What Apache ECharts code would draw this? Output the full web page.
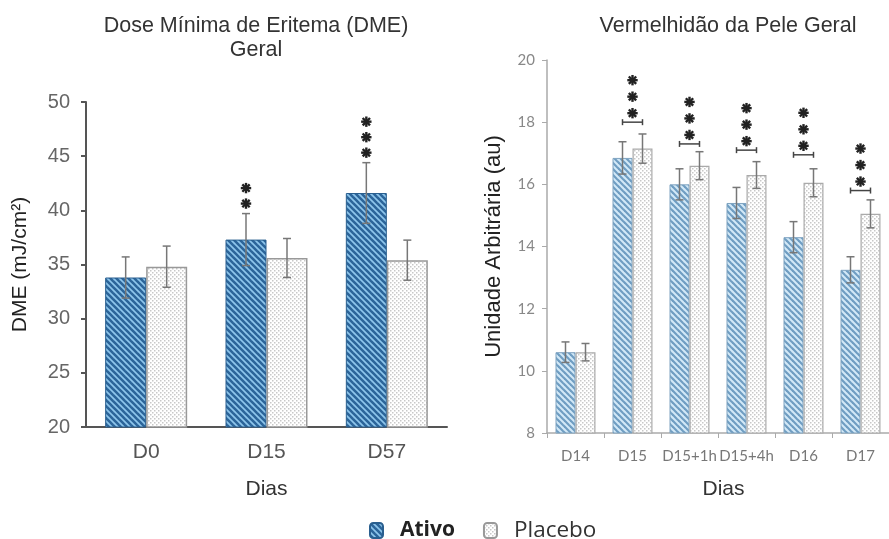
<!DOCTYPE html>
<html><head><meta charset="utf-8">
<script src="https://cdn.jsdelivr.net/npm/echarts@6/dist/echarts.min.js"></script>
<style>html,body{margin:0;padding:0;background:#fff}#c{width:889px;height:539px}</style>
</head><body><div id="c"></div>
<script>
// ---- Data: Dose Mínima de Eritema (DME) Geral ----
const dmeCategories = ['D0', 'D15', 'D57'];
const dmeAtivo = [33.8, 37.3, 41.6];
const dmeAtivoErr = [1.9, 2.4, 2.8];
const dmePlacebo = [34.8, 35.6, 35.4];
const dmePlaceboErr = [1.9, 1.8, 1.85];
const dmeStars = [0, 2, 3];

// ---- Data: Vermelhidão da Pele Geral ----
const redCategories = ['D14', 'D15', 'D15+1h', 'D15+4h', 'D16', 'D17'];
const redAtivo = [10.6, 16.85, 16.0, 15.4, 14.3, 13.25];
const redAtivoErr = [0.33, 0.52, 0.5, 0.5, 0.5, 0.42];
const redPlacebo = [10.6, 17.15, 16.6, 16.3, 16.05, 15.05];
const redPlaceboErr = [0.28, 0.47, 0.45, 0.43, 0.45, 0.45];
const redBracket = [null, 18.0, 17.3, 17.1, 16.95, 15.8];
const redStars = [0, 3, 3, 3, 3, 3];

const seriesNames = ['Ativo', 'Placebo'];

// ---- styles ----
const DME_BAR_W = 41, RED_BAR_W = 20;

function stripePattern(bg, fg, p, lw) {
  const c = document.createElement('canvas');
  c.width = c.height = p;
  const x = c.getContext('2d');
  x.fillStyle = bg; x.fillRect(0, 0, p, p);
  x.strokeStyle = fg; x.lineWidth = lw; x.lineCap = 'square';
  for (const k of [-p, 0, p]) {
    x.beginPath(); x.moveTo(k, 0); x.lineTo(k + p, p); x.stroke();
  }
  return { image: c, repeat: 'repeat' };
}
function dotPattern(bg, fg, p) {
  const c = document.createElement('canvas');
  c.width = c.height = p;
  const x = c.getContext('2d');
  x.fillStyle = bg; x.fillRect(0, 0, p, p);
  x.fillStyle = fg;
  x.fillRect(0, 0, 1.5, 1.5);
  x.fillRect(p / 2, p / 2, 1.5, 1.5);
  return { image: c, repeat: 'repeat' };
}

const patAtivoL = stripePattern('#8ec6ec', '#2c659a', 6, 2.6);
const patAtivoR = stripePattern('#d3e9f7', '#6f9dc2', 6, 2.2);
const patPlacebo = dotPattern('#ffffff', '#c8c8c8', 4);

function errRender(offset, color) {
  return function (params, api) {
    const cat = api.value(0), v = api.value(1), e = api.value(2);
    const t = api.coord([cat, v + e]);
    const b = api.coord([cat, v - e]);
    const x = t[0] + offset;
    const cw = 4;
    const st = { stroke: color, lineWidth: 1.5 };
    return {
      type: 'group',
      children: [
        { type: 'line', shape: { x1: x, y1: t[1], x2: x, y2: b[1] }, style: st },
        { type: 'line', shape: { x1: x - cw, y1: t[1], x2: x + cw, y2: t[1] }, style: st },
        { type: 'line', shape: { x1: x - cw, y1: b[1], x2: x + cw, y2: b[1] }, style: st }
      ]
    };
  };
}

function starLines(cx, cy, r) {
  const out = [];
  for (let k = 0; k < 4; k++) {
    const a = k * Math.PI / 4;
    out.push({
      type: 'line',
      shape: { x1: cx - r * Math.cos(a), y1: cy - r * Math.sin(a), x2: cx + r * Math.cos(a), y2: cy + r * Math.sin(a) },
      style: { stroke: '#222', lineWidth: 2.4 }
    });
  }
  return out;
}

function dmeStarRender(params, api) {
  const cat = api.value(0), top = api.value(1), n = api.value(2);
  if (!n) return null;
  const p = api.coord([cat, top]);
  const x = p[0] - DME_BAR_W / 2;
  let ch = [];
  for (let i = 0; i < n; i++) ch = ch.concat(starLines(x, p[1] - 10 - i * 15.5, 5.2));
  return { type: 'group', children: ch };
}

function redStarRender(params, api) {
  const cat = api.value(0), lvl = api.value(1), n = api.value(2);
  if (!n) return null;
  const p = api.coord([cat, lvl]);
  const h = RED_BAR_W / 2;
  const st = { stroke: '#444', lineWidth: 1.5 };
  let ch = [
    { type: 'line', shape: { x1: p[0] - h, y1: p[1], x2: p[0] + h, y2: p[1] }, style: st },
    { type: 'line', shape: { x1: p[0] - h, y1: p[1] - 3, x2: p[0] - h, y2: p[1] + 3 }, style: st },
    { type: 'line', shape: { x1: p[0] + h, y1: p[1] - 3, x2: p[0] + h, y2: p[1] + 3 }, style: st }
  ];
  for (let i = 0; i < n; i++) ch = ch.concat(starLines(p[0], p[1] - 9 - i * 16.5, 5.2));
  return { type: 'group', children: ch };
}

const chart = echarts.init(document.getElementById('c'), null, { renderer: 'canvas' });

const LF = 'Liberation Sans, Arial, sans-serif';
const RF = 'Lato, Liberation Sans, sans-serif';

chart.setOption({
  animation: false,
  backgroundColor: '#fff',
  graphic: [
    { type: 'text', x: 256, y: 26, style: { text: 'Dose Mínima de Eritema (DME)', font: '21.5px ' + LF, fill: '#333', textAlign: 'center', textVerticalAlign: 'middle' } },
    { type: 'text', x: 256, y: 50, style: { text: 'Geral', font: '21.5px ' + LF, fill: '#333', textAlign: 'center', textVerticalAlign: 'middle' } },
    { type: 'text', x: 728, y: 26, style: { text: 'Vermelhidão da Pele Geral', font: '21.5px ' + LF, fill: '#333', textAlign: 'center', textVerticalAlign: 'middle' } }
  ],
  legend: {
    data: seriesNames,
    left: 364, top: 514,
    itemWidth: 13, itemHeight: 15, itemGap: 28,
    formatter: function (n) { return n === 'Ativo' ? '{b|' + n + '}' : '{n|' + n + '}'; },
    textStyle: {
      rich: {
        b: { fontSize: 21, fontWeight: 'bold', fontFamily: 'Open Sans', color: '#222', padding: [0, 0, 0, 12] },
        n: { fontSize: 22.5, fontFamily: 'Open Sans', color: '#333', padding: [0, 0, 0, 12] }
      }
    }
  },
  grid: [
    { left: 86, top: 102, width: 361, height: 325 },
    { left: 547, top: 60, width: 351, height: 373 }
  ],
  xAxis: [
    {
      gridIndex: 0, type: 'category', data: dmeCategories,
      axisLine: { lineStyle: { color: '#555', width: 2 } },
      axisTick: { show: false },
      axisLabel: { fontSize: 21, color: '#555', fontFamily: LF, margin: 15 },
      name: 'Dias', nameLocation: 'middle', nameGap: 52,
      nameTextStyle: { fontSize: 21, color: '#333', fontFamily: LF }
    },
    {
      gridIndex: 1, type: 'category', data: redCategories,
      axisLine: { lineStyle: { color: '#aaa', width: 1.5 } },
      axisTick: { show: true, length: 5, lineStyle: { color: '#aaa' } },
      axisLabel: { fontSize: 15, color: '#777', fontFamily: RF, margin: 16, interval: 0 },
      name: 'Dias', nameLocation: 'middle', nameGap: 46,
      nameTextStyle: { fontSize: 21, color: '#333', fontFamily: LF, padding: [0, 0, 0, 11] }
    }
  ],
  yAxis: [
    {
      gridIndex: 0, type: 'value', min: 20, max: 50, interval: 5,
      axisLine: { show: true, lineStyle: { color: '#555', width: 2 } },
      axisTick: { show: true, length: 5, lineStyle: { color: '#555', width: 2 } },
      axisLabel: { fontSize: 20, color: '#666', fontFamily: LF, margin: 16 },
      splitLine: { show: false },
      name: 'DME (mJ/cm²)', nameLocation: 'middle', nameGap: 55,
      nameTextStyle: { fontSize: 21, color: '#222', fontFamily: LF }
    },
    {
      gridIndex: 1, type: 'value', min: 8, max: 20, interval: 2,
      axisLine: { show: true, lineStyle: { color: '#aaa', width: 1.5 } },
      axisTick: { show: true, length: 5, lineStyle: { color: '#aaa' } },
      axisLabel: { fontSize: 15, color: '#888', fontFamily: RF, margin: 12 },
      splitLine: { show: false },
      name: 'Unidade Arbitrária (au)', nameLocation: 'middle', nameGap: 42,
      nameTextStyle: { fontSize: 22, color: '#222', fontFamily: LF }
    }
  ],
  series: [
    {
      name: 'Ativo', type: 'bar', xAxisIndex: 0, yAxisIndex: 0, data: dmeAtivo,
      barWidth: DME_BAR_W, barGap: '0%',
      itemStyle: { color: patAtivoL, borderColor: '#2a5f8f', borderWidth: 1 }
    },
    {
      name: 'Placebo', type: 'bar', xAxisIndex: 0, yAxisIndex: 0, data: dmePlacebo,
      barWidth: DME_BAR_W, barGap: '0%',
      itemStyle: { color: patPlacebo, borderColor: '#999', borderWidth: 1.5 }
    },
    {
      name: 'Ativo', type: 'bar', xAxisIndex: 1, yAxisIndex: 1, data: redAtivo,
      barWidth: RED_BAR_W, barGap: '0%',
      itemStyle: { color: patAtivoR, borderColor: '#7fa3c0', borderWidth: 1 }
    },
    {
      name: 'Placebo', type: 'bar', xAxisIndex: 1, yAxisIndex: 1, data: redPlacebo,
      barWidth: RED_BAR_W, barGap: '0%',
      itemStyle: { color: patPlacebo, borderColor: '#aaa', borderWidth: 1.2 }
    },
    {
      type: 'custom', xAxisIndex: 0, yAxisIndex: 0, z: 5,
      data: dmeAtivo.map((v, i) => [i, v, dmeAtivoErr[i]]),
      renderItem: errRender(-DME_BAR_W / 2, '#777')
    },
    {
      type: 'custom', xAxisIndex: 0, yAxisIndex: 0, z: 5,
      data: dmePlacebo.map((v, i) => [i, v, dmePlaceboErr[i]]),
      renderItem: errRender(DME_BAR_W / 2, '#777')
    },
    {
      type: 'custom', xAxisIndex: 1, yAxisIndex: 1, z: 5,
      data: redAtivo.map((v, i) => [i, v, redAtivoErr[i]]),
      renderItem: errRender(-RED_BAR_W / 2, '#777')
    },
    {
      type: 'custom', xAxisIndex: 1, yAxisIndex: 1, z: 5,
      data: redPlacebo.map((v, i) => [i, v, redPlaceboErr[i]]),
      renderItem: errRender(RED_BAR_W / 2, '#777')
    },
    {
      type: 'custom', xAxisIndex: 0, yAxisIndex: 0, z: 6,
      data: dmeStars.map((n, i) => [i, dmeAtivo[i] + dmeAtivoErr[i], n]),
      renderItem: dmeStarRender
    },
    {
      type: 'custom', xAxisIndex: 1, yAxisIndex: 1, z: 6,
      data: redStars.map((n, i) => [i, redBracket[i] == null ? 0 : redBracket[i], n]),
      renderItem: redStarRender
    }
  ]
});
</script>
</body></html>
